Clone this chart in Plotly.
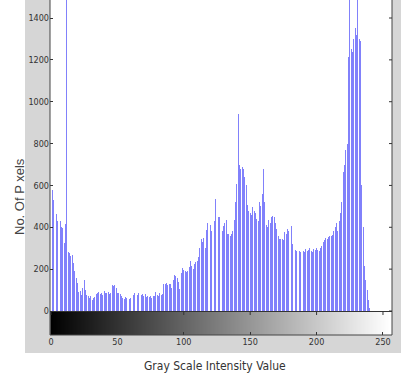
import plotly.graph_objects as go

# ---- data ----
counts = [
    1240, 580, 530, 505, 465, 430, 425, 430, 400, 395,
    325, 418, 1600, 280, 277, 263, 268, 230, 193, 160,
    136, 89, 95, 75, 108, 146, 100, 75, 70, 62,
    72, 52, 60, 66, 80, 85, 90, 82, 86, 78,
    94, 88, 84, 90, 80, 86, 122, 118, 125, 110,
    85, 88, 80, 70, 62, 58, 66, 60, 72, 55,
    62, 80, 78, 84, 80, 75, 86, 82, 78, 80,
    74, 82, 68, 72, 66, 70, 64, 72, 70, 90,
    78, 70, 84, 76, 80, 130, 128, 132, 126, 130,
    128, 110, 150, 170, 165, 160, 140, 107, 180, 207,
    195, 190, 185, 192, 210, 240, 215, 200, 225, 235,
    240, 260, 300, 342, 330, 350, 300, 385, 420, 512,
    413, 380, 355, 430, 536, 470, 451, 451, 413, 380,
    405, 420, 437, 366, 366, 360, 366, 380, 437, 520,
    606, 940, 700, 677, 690, 677, 640, 601, 508, 480,
    470, 460, 498, 480, 470, 442, 430, 522, 500, 560,
    677, 522, 413, 400, 437, 420, 451, 455, 451, 420,
    390, 360, 343, 345, 343, 340, 376, 370, 390, 380,
    380, 405, 320, 300, 290, 285, 270, 285, 280, 290,
    285, 280, 295, 285, 290, 300, 285, 280, 295, 290,
    300, 290, 285, 300, 310, 330, 340, 350, 345, 355,
    360, 357, 365, 380, 400, 420, 380, 428, 470, 520,
    663, 700, 770, 800, 1212, 1600, 1250, 1236, 1300, 1353,
    1320, 1600, 1300, 1290, 600, 400, 216, 150, 99, 52,
    15, 5, 0, 0, 0, 0, 0, 0, 0, 0,
    0, 0, 0, 0, 0, 0,
]
intensity = list(range(256))
x_ticks = [0, 50, 100, 150, 200, 250]
y_ticks = [0, 200, 400, 600, 800, 1000, 1200, 1400]
x_title = "Gray Scale Intensity Value"
y_title = "No. Of P xels"

W, H = 401, 378
L, R, T, B = 50, 9, 0, 43
pw, ph = W - L - R, H - T - B

def px(xp):
    return (xp - L) / pw

def py(yp):
    return (H - B - yp) / ph

narrow = "Liberation Sans Narrow, Arial Narrow, DejaVu Sans Condensed, Liberation Sans, sans-serif"

fig = go.Figure()
fig.add_trace(go.Bar(
    x=intensity, y=counts, width=0.7,
    marker=dict(color="rgba(80,80,250,0.72)", line=dict(width=0)),
    xaxis="x", yaxis="y", showlegend=False,
))
fig.add_trace(go.Heatmap(
    x=intensity, y=[0.5], z=[intensity],
    colorscale=[[0, "black"], [1, "white"]], showscale=False,
    xaxis="x", yaxis="y2", hoverinfo="skip",
))

fig.update_layout(
    width=W, height=H,
    margin=dict(l=L, r=R, t=T, b=B),
    paper_bgcolor="#d6d6d6",
    plot_bgcolor="white",
    bargap=0,
    xaxis=dict(
        range=[-0.75, 256.8], anchor="y2",
        tickvals=x_ticks, ticks="inside", ticklen=3, tickcolor="#333",
        tickfont=dict(family=narrow, size=9, color="#333"),
        showgrid=False, zeroline=False, showline=False,
    ),
    yaxis=dict(
        domain=[py(311), 1], range=[0, 1486],
        tickvals=y_ticks, ticks="inside", ticklen=3, tickcolor="#333",
        tickfont=dict(family=narrow, size=9, color="#333"),
        showgrid=False, zeroline=False, showline=False,
    ),
    yaxis2=dict(
        domain=[0, py(312)], range=[0, 1],
        showticklabels=False, ticks="", showgrid=False, zeroline=False,
    ),
)

shapes = [
    # white surround outside the gray figure area
    dict(type="rect", xref="paper", yref="paper", x0=px(0), x1=px(25), y0=py(H), y1=py(0),
         fillcolor="white", line=dict(width=0), layer="below"),
    dict(type="rect", xref="paper", yref="paper", x0=px(0), x1=px(W), y0=py(H), y1=py(353),
         fillcolor="white", line=dict(width=0), layer="below"),
    # axes box lines
    dict(type="line", xref="paper", yref="paper", x0=0, x1=0, y0=0, y1=1,
         line=dict(color="#444", width=1)),
    dict(type="line", xref="paper", yref="paper", x0=1, x1=1, y0=0, y1=1,
         line=dict(color="#444", width=1)),
    dict(type="line", xref="paper", yref="paper", x0=0, x1=1, y0=0, y1=0,
         line=dict(color="#444", width=1)),
    dict(type="line", xref="paper", yref="paper", x0=0, x1=1, y0=py(311.5), y1=py(311.5),
         line=dict(color="#333", width=1)),
]
# right-side mirrored y ticks
for v in y_ticks:
    shapes.append(dict(type="line", xref="paper", yref="y", x0=1, x1=1 - 3 / pw, y0=v, y1=v,
                       line=dict(color="#333", width=1)))
# x ticks at top of colorbar
for v in x_ticks:
    shapes.append(dict(type="line", xref="x", yref="paper", x0=v, x1=v, y0=py(312), y1=py(315),
                       line=dict(color="#333", width=1)))
fig.update_layout(shapes=shapes)

fig.add_annotation(text=x_title, xref="paper", yref="paper", x=px(215), y=py(366),
                   showarrow=False, font=dict(family=narrow, size=12, color="#333"),
                   xanchor="center", yanchor="middle")
fig.add_annotation(text=y_title, xref="paper", yref="paper", x=px(19), y=py(197),
                   showarrow=False, textangle=-90,
                   font=dict(family="Liberation Sans, Arial, sans-serif", size=13, color="#444"),
                   xanchor="center", yanchor="middle")

fig.write_html("out.html", config={"displayModeBar": False},
               post_script="document.body.style.margin='0';document.body.style.overflow='hidden';")
